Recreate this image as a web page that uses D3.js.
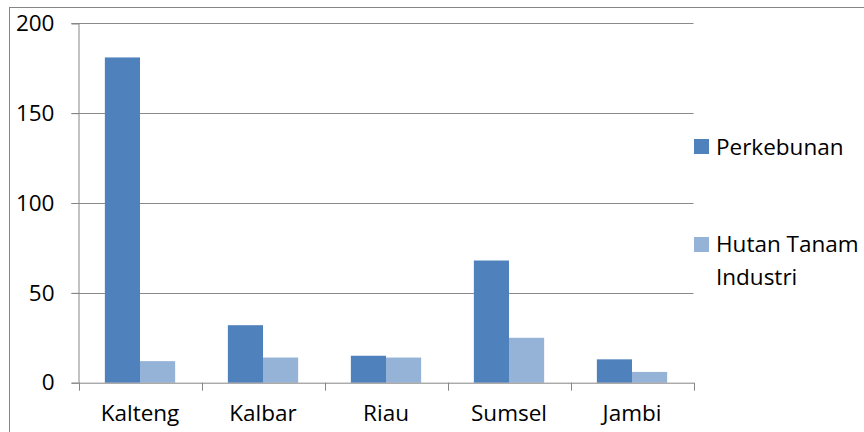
<!DOCTYPE html>
<html>
<head>
<meta charset="utf-8">
<script src="https://cdn.jsdelivr.net/npm/d3@7"></script>
<style>
  html, body { margin: 0; padding: 0; background: #fff; }
  svg { display: block; }
  text { font-family: "Open Sans", "Noto Sans", sans-serif; fill: #000; }
</style>
</head>
<body>
<svg id="chart" width="864" height="432"></svg>
<script>
const categories = ["Kalteng", "Kalbar", "Riau", "Sumsel", "Jambi"];
const seriesNames = ["Perkebunan", "Hutan Tanam Industri"];
const perkebunan = [181, 32, 15, 68, 13];
const hutanTanamIndustri = [12, 14, 14, 25, 6];
const yTicks = [0, 50, 100, 150, 200];
const colors = ["#4F81BD", "#95B3D7"];

const seriesValues = [perkebunan, hutanTanamIndustri];
const svg = d3.select("#chart");

// outer chart border
svg.append("rect")
  .attr("x", 9.5).attr("y", 7.5)
  .attr("width", 900).attr("height", 500)
  .attr("fill", "none").attr("stroke", "#868686").attr("stroke-width", 1);

const plot = { left: 78.5, right: 693.5, top: 23.3, bottom: 382.7 };

const x0 = d3.scaleBand().domain(categories).range([plot.left, plot.right]).paddingInner(0).paddingOuter(0);
const x1 = d3.scaleBand().domain(seriesNames).range([0, x0.bandwidth()]).paddingInner(0).paddingOuter(0.75);
const y = d3.scaleLinear().domain([0, 200]).range([plot.bottom, plot.top]);

// gridlines
svg.append("g").selectAll("line").data(yTicks.filter(d => d > 0)).join("line")
  .attr("x1", plot.left - 7).attr("x2", plot.right)
  .attr("y1", d => Math.round(y(d)) + 0.5).attr("y2", d => Math.round(y(d)) + 0.5)
  .attr("stroke", "#8a8a8a").attr("stroke-width", 1);

// bars
const groups = svg.append("g").selectAll("g").data(categories).join("g")
  .attr("transform", d => `translate(${x0(d)},0)`);
groups.selectAll("rect")
  .data((c, i) => seriesNames.map((s, j) => ({ s, j, v: seriesValues[j][i] })))
  .join("rect")
  .attr("x", d => x1(d.s))
  .attr("width", x1.bandwidth())
  .attr("y", d => y(d.v))
  .attr("height", d => plot.bottom - y(d.v))
  .attr("fill", d => colors[d.j]);

// y axis
const yAxis = d3.axisLeft(y).tickValues(yTicks).tickSize(7).tickPadding(17);
const gy = svg.append("g").attr("transform", `translate(${plot.left},0)`).call(yAxis);
gy.select(".domain").attr("stroke", "#868686");
gy.selectAll(".tick line").attr("stroke", "#868686");
gy.selectAll(".tick text").attr("font-size", "22.5px").attr("font-family", "'Open Sans', sans-serif").attr("fill", "#000");

// x axis
const xAxis = d3.axisBottom(x0).tickSize(0).tickPadding(22);
const gx = svg.append("g").attr("transform", `translate(0,${plot.bottom})`).call(xAxis);
gx.select(".domain").attr("stroke", "#868686");
gx.selectAll(".tick text").attr("font-size", "22.5px").attr("font-family", "'Open Sans', sans-serif").attr("fill", "#000");
// category boundary tick marks
const boundaries = categories.map(c => x0(c)).concat([plot.right]);
gx.append("g").selectAll("line").data(boundaries).join("line")
  .attr("x1", d => Math.round(d) + 0.5).attr("x2", d => Math.round(d) + 0.5)
  .attr("y1", 0).attr("y2", 8)
  .attr("stroke", "#868686");

// legend
const legendItems = [
  { name: seriesNames[0], lines: ["Perkebunan"], sqY: 139, baseY: 155 },
  { name: seriesNames[1], lines: ["Hutan Tanam", "Industri"], sqY: 237, baseY: 252 }
];
const lg = svg.append("g");
legendItems.forEach((it, i) => {
  lg.append("rect").attr("x", 694).attr("y", it.sqY).attr("width", 15).attr("height", 15).attr("fill", colors[i]);
  const t = lg.append("text").attr("x", 716).attr("y", it.baseY).attr("font-size", "22.5px");
  it.lines.forEach((ln, k) => {
    t.append("tspan").attr("x", 716).attr("dy", k === 0 ? 0 : 33).text(ln);
  });
});
</script>
</body>
</html>
